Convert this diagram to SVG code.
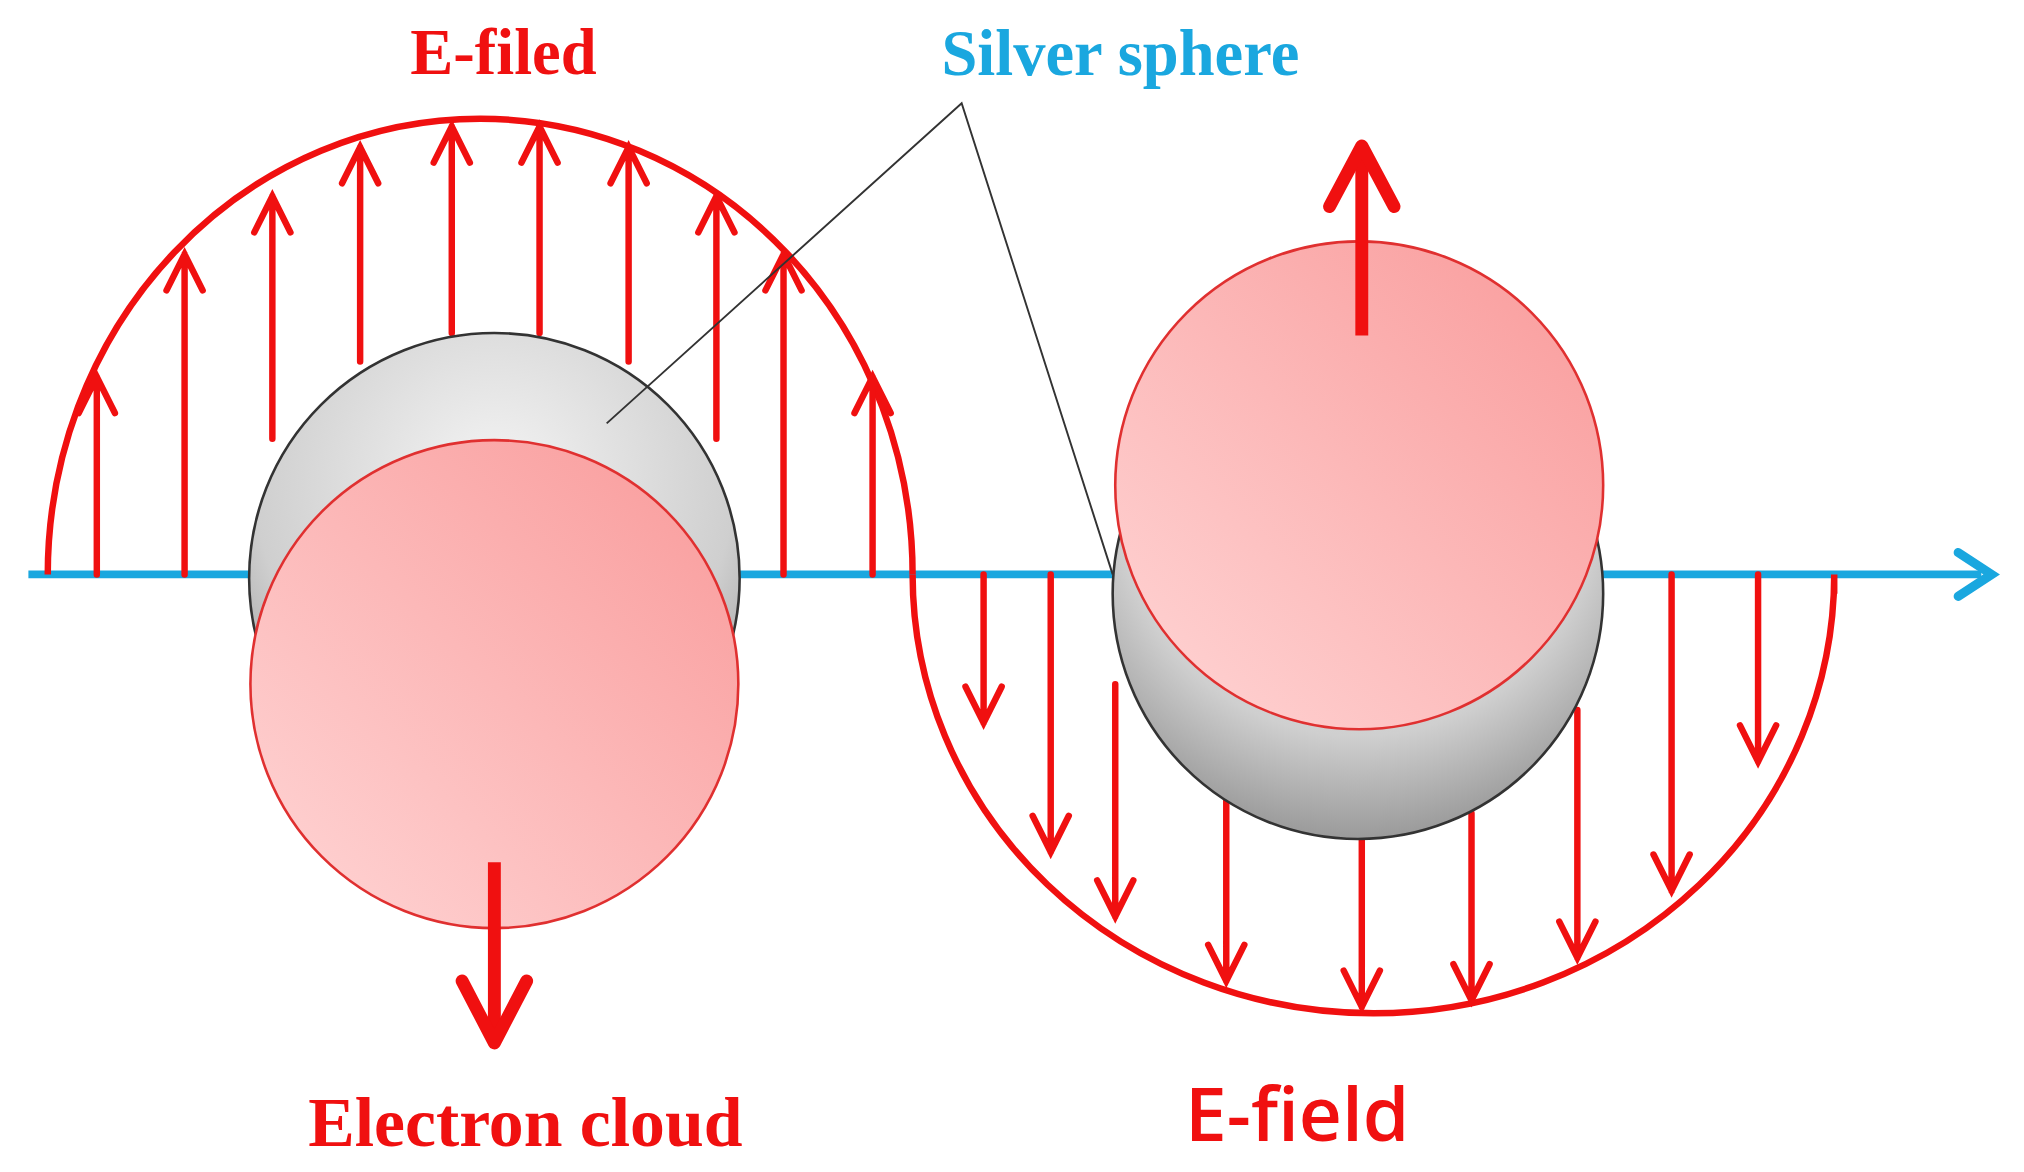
<svg xmlns="http://www.w3.org/2000/svg" width="2024" height="1172" viewBox="0 0 2024 1172">
<style>
.f{stroke:#f01010;stroke-width:5;fill:none}
.a{stroke:#f01010;stroke-width:5;fill:none;stroke-linecap:round}
.t{font-weight:bold;text-anchor:middle}
</style>
<defs>
<radialGradient id="gray" cx="0.5" cy="0.3" r="0.7"><stop offset="0" stop-color="#f4f4f4"/><stop offset="0.7" stop-color="#cfcfcf"/><stop offset="1" stop-color="#9a9a9a"/></radialGradient>
<linearGradient id="pink" x1="0" y1="1" x2="1" y2="0"><stop offset="0" stop-color="#ffd6d6"/><stop offset="1" stop-color="#f99a9a"/></linearGradient>
</defs>
<rect width="2024" height="1172" fill="#fff"/>
<g transform="scale(1.2908)">
<g id="axis"><line x1="22" y1="445" x2="1535" y2="445" stroke="#1aa7df" stroke-width="6"/><path d="M1517,428 L1543,445 L1517,462" stroke="#1aa7df" stroke-width="7" fill="none" stroke-linecap="round"/></g>
<g id="waves"><path class="f" d="M37,445 A335,353 0 0 1 707,445"/><path class="f" d="M707,445 A357,340 0 0 0 1421,445 L1421,460"/></g>
<g id="connectors">
<g id="up">
<path class="a" d="M75,445V292M61,320L75,292L89,320"/>
<path class="a" d="M143,445V197M129,225L143,197L157,225"/>
<path class="a" d="M211,340V152M197,180L211,152L225,180"/>
<path class="a" d="M279,280V114M265,142L279,114L293,142"/>
<path class="a" d="M350,258V98M336,126L350,98L364,126"/>
<path class="a" d="M418,258V98M404,126L418,98L432,126"/>
<path class="a" d="M487,280V114M473,142L487,114L501,142"/>
<path class="a" d="M555,340V152M541,180L555,152L569,180"/>
<path class="a" d="M607,445V197M593,225L607,197L621,225"/>
<path class="a" d="M676,445V292M662,320L676,292L690,320"/>
</g>
<g id="down">
<path class="a" d="M762,445V560M748,532L762,560L776,532"/>
<path class="a" d="M814,445V660M800,632L814,660L828,632"/>
<path class="a" d="M864,530V710M850,682L864,710L878,682"/>
<path class="a" d="M950,615V760M936,732L950,760L964,732"/>
<path class="a" d="M1055,645V780M1041,752L1055,780L1069,752"/>
<path class="a" d="M1140,630V775M1126,747L1140,775L1154,747"/>
<path class="a" d="M1222,550V742M1208,714L1222,742L1236,714"/>
<path class="a" d="M1295,445V690M1281,662L1295,690L1309,662"/>
<path class="a" d="M1362,445V590M1348,562L1362,590L1376,562"/>
</g>
</g>
<g id="left-sphere"><circle cx="383" cy="448" r="190" fill="url(#gray)" stroke="#333" stroke-width="2"/><circle cx="383" cy="530" r="189" fill="url(#pink)" stroke="#e03030" stroke-width="2"/></g>
<g id="right-sphere"><circle cx="1052" cy="460" r="190" fill="url(#gray)" stroke="#333" stroke-width="2"/><circle cx="1053" cy="376" r="189" fill="url(#pink)" stroke="#e03030" stroke-width="2"/></g>
<g id="big-arrows">
<path d="M383,668V800" stroke="#f01010" stroke-width="10"/><path d="M358,760L383,808L408,760" stroke="#f01010" stroke-width="10" fill="none" stroke-linejoin="round" stroke-linecap="round"/>
<path d="M1055,260V120" stroke="#f01010" stroke-width="10"/><path d="M1030,160L1055,113L1080,160" stroke="#f01010" stroke-width="10" fill="none" stroke-linejoin="round" stroke-linecap="round"/>
</g>
<g id="pointer"><path d="M470,328L745,80L862,445" stroke="#333" stroke-width="1.5" fill="none"/></g>
<g id="labels">
<text class="t" x="390" y="57" font-family="Liberation Serif,serif" font-size="50" fill="#f01010">E-filed</text>
<text class="t" x="868" y="58" font-family="Liberation Serif,serif" font-size="50" fill="#1aa7df">Silver sphere</text>
<text class="t" x="407" y="888" font-family="Liberation Serif,serif" font-size="54" fill="#f01010">Electron cloud</text>
<text x="1005" y="884" text-anchor="middle" font-family="Open Sans,sans-serif" font-weight="600" font-size="58" fill="#f01010">E-field</text>
</g>
</g>
</svg>
